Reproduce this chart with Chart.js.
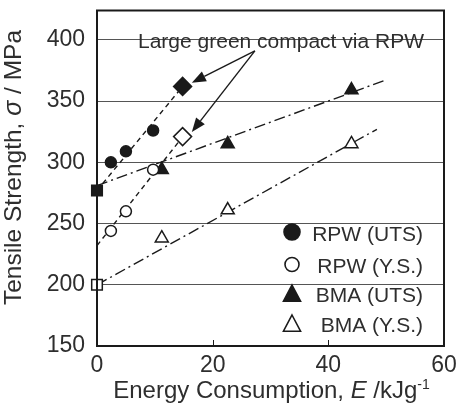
<!DOCTYPE html>
<html><head><meta charset="utf-8">
<script src="https://cdn.jsdelivr.net/npm/chart.js@4/dist/chart.umd.min.js"></script>
<style>html,body{margin:0;padding:0;background:#fff}</style>
</head><body>
<canvas id="c" width="460" height="414"></canvas>
<script>
// ---- data ----
const rpwE = [2.4, 5.0, 9.7];
const rpwUts = [300, 309, 326];
const rpwYs = [244, 260, 294];
const bmaE = [11.2, 22.6, 44.0];
const bmaUts = [294, 315, 359];
const bmaYs = [238, 261, 315];
const largeE = [14.8];
const largeUts = [362];
const largeYs = [321];
const baseE = [0];
const baseUts = [277];
const baseYs = [200];
// fitted trend lines (end points)
const rpwUtsFitE = [0, 15.5], rpwUtsFit = [277, 366];
const rpwYsFitE = [0, 15.5], rpwYsFit = [232, 325];
const bmaUtsFitE = [0, 49.8], bmaUtsFit = [281, 367];
const bmaYsFitE = [0, 48.4], bmaYsFit = [200, 327];
// arrow annotation: start and the two tips (data units)
const arrowStart = [27.3, 391];
const arrowTips = [[16.4, 365], [16.4, 324.8]];
const annotationText = 'Large green compact via RPW';
const xTicks = [0, 20, 40, 60];
const yTicks = [150, 200, 250, 300, 350, 400];
const legendLabels = ['RPW (UTS)', 'RPW (Y.S.)', 'BMA (UTS)', 'BMA (Y.S.)'];

const pts = (xs, ys) => xs.map((x, i) => ({x, y: ys[i]}));
const INK = '#1a1a1a';
const TXT = '#2e2e2e';
const FONT = '"Liberation Sans", Arial, Helvetica, sans-serif';

function marker(data, style, filled, r) {
  return {data, showLine: false, pointStyle: style, pointRadius: r, pointHoverRadius: r,
    pointBackgroundColor: filled ? INK : '#fff', pointBorderColor: INK, pointBorderWidth: 1.5};
}
function fit(data, dash) {
  return {data, showLine: true, pointRadius: 0, borderColor: INK, borderWidth: 1.4,
    borderDash: dash, fill: false, tension: 0};
}
const DASH = [5, 4];
const DASHDOT = [11, 4, 2, 4];

const framePlugin = {
  id: 'extras',
  afterDraw(chart) {
    const ctx = chart.ctx, a = chart.chartArea;
    const xs = chart.scales.x, ys = chart.scales.y;
    ctx.save();
    // inside ticks on bottom axis
    ctx.strokeStyle = INK; ctx.lineWidth = 1;
    xTicks.slice(1, -1).forEach(v => {
      const px = Math.round(xs.getPixelForValue(v)) + 0.5;
      ctx.beginPath(); ctx.moveTo(px, a.bottom); ctx.lineTo(px, a.bottom - 6); ctx.stroke();
    });
    // frame
    ctx.lineWidth = 2; ctx.strokeStyle = INK;
    ctx.strokeRect(a.left, a.top, a.right - a.left, a.bottom - a.top);

    // annotation text
    ctx.fillStyle = TXT;
    ctx.font = '21px ' + FONT;
    ctx.textBaseline = 'alphabetic'; ctx.textAlign = 'left';
    ctx.fillText(annotationText, a.left + 41, a.top + 37);
    // arrows
    const sx = xs.getPixelForValue(arrowStart[0]), sy = ys.getPixelForValue(arrowStart[1]);
    ctx.lineWidth = 1.4; ctx.strokeStyle = INK; ctx.fillStyle = INK;
    arrowTips.forEach(t => {
      const tx = xs.getPixelForValue(t[0]), ty = ys.getPixelForValue(t[1]);
      const ang = Math.atan2(ty - sy, tx - sx);
      const L = 14, W = 5.5;
      const bx = tx - L * Math.cos(ang), by = ty - L * Math.sin(ang);
      ctx.beginPath(); ctx.moveTo(sx, sy); ctx.lineTo(bx, by); ctx.stroke();
      ctx.beginPath();
      ctx.moveTo(tx, ty);
      ctx.lineTo(bx + W * Math.sin(ang), by - W * Math.cos(ang));
      ctx.lineTo(bx - W * Math.sin(ang), by + W * Math.cos(ang));
      ctx.closePath(); ctx.fill();
    });

    // legend
    const lx = a.left + 195, rx = a.left + 326;
    const rows = [221.5, 254, 284, 314];
    const base = [9.3, 8.3, 7.5, 7.3];
    const styles = [['circle', true], ['circle', false], ['triangle', true], ['triangle', false]];
    ctx.font = '21px ' + FONT; ctx.textAlign = 'right'; ctx.textBaseline = 'alphabetic';
    legendLabels.forEach((lab, i) => {
      const cy = a.top + rows[i];
      const [st, filled] = styles[i];
      ctx.beginPath();
      if (st === 'circle') {
        ctx.arc(lx, cy, filled ? 8 : 7, 0, Math.PI * 2);
      } else {
        const r = 9.5;
        ctx.moveTo(lx, cy - r);
        ctx.lineTo(lx + r * 0.9, cy + r * 0.5 + 2);
        ctx.lineTo(lx - r * 0.9, cy + r * 0.5 + 2);
        ctx.closePath();
      }
      ctx.lineWidth = 1.6;
      ctx.fillStyle = filled ? INK : '#fff';
      ctx.fill(); ctx.strokeStyle = INK; ctx.stroke();
      ctx.fillStyle = TXT;
      ctx.fillText(lab, rx, cy + base[i]);
    });

    // axis titles with mixed styles
    ctx.fillStyle = TXT; ctx.textAlign = 'left'; ctx.textBaseline = 'alphabetic';
    function runs(parts) {
      let w = 0;
      parts.forEach(p => { ctx.font = p.f; p.w = ctx.measureText(p.t).width; w += p.w; });
      return w;
    }
    const N = '24px ' + FONT, I = 'italic 24px ' + FONT, S = '14px ' + FONT;
    const NY = '24.5px ' + FONT, IY = 'italic 25px ' + FONT;
    // x title
    const xp = [{t: 'Energy Consumption, ', f: N}, {t: 'E', f: I}, {t: ' /kJg', f: N}, {t: '-1', f: S, up: 9}];
    const xw = runs(xp);
    let cx = (a.left + a.right) / 2 - xw / 2 + 1;
    xp.forEach(p => { ctx.font = p.f; ctx.fillText(p.t, cx, 398 - (p.up || 0)); cx += p.w; });
    // y title
    const yp = [{t: 'Tensile Strength, ', f: NY}, {t: '\u03C3', f: IY}, {t: ' / MPa', f: NY}];
    const yw = runs(yp);
    ctx.translate(21, 167.5); ctx.rotate(-Math.PI / 2);
    let cy2 = -yw / 2;
    yp.forEach(p => { ctx.font = p.f; ctx.fillText(p.t, cy2, 0); cy2 += p.w; });
    ctx.restore();
  }
};

new Chart(document.getElementById('c'), {
  type: 'scatter',
  data: {
    datasets: [
      marker(pts(rpwE, rpwUts), 'circle', true, 5.5),
      marker(pts(rpwE, rpwYs), 'circle', false, 5.5),
      marker(pts(bmaE, bmaUts), 'triangle', true, 7.5),
      marker(pts(bmaE, bmaYs), 'triangle', false, 7.5),
      marker(pts(largeE, largeUts), 'rectRot', true, 9),
      marker(pts(largeE, largeYs), 'rectRot', false, 9),
      marker(pts(baseE, baseUts), 'rect', true, 7.5),
      marker(pts(baseE, baseYs), 'rect', false, 7.5),
      fit(pts(rpwUtsFitE, rpwUtsFit), DASH),
      fit(pts(rpwYsFitE, rpwYsFit), DASH),
      fit(pts(bmaUtsFitE, bmaUtsFit), DASHDOT),
      fit(pts(bmaYsFitE, bmaYsFit), DASHDOT)
    ]
  },
  options: {
    responsive: false, animation: false, devicePixelRatio: 1,
    layout: {padding: {top: 6, right: 16, left: 0, bottom: 0}},
    plugins: {legend: {display: false}, tooltip: {enabled: false}},
    scales: {
      x: {
        type: 'linear', min: 0, max: 60,
        afterBuildTicks: s => { s.ticks = xTicks.map(v => ({value: v})); },
        afterFit: s => { s.height = 68; s.paddingLeft = 0; s.paddingRight = 0; },
        grid: {display: false, drawTicks: false},
        border: {display: false},
        ticks: {font: {size: 23, family: FONT}, color: TXT, padding: 6, maxRotation: 0}
      },
      y: {
        type: 'linear', min: 150, max: 424,
        afterBuildTicks: s => { s.ticks = yTicks.map(v => ({value: v})); },
        afterFit: s => { s.width = 97; s.paddingTop = 0; s.paddingBottom = 0; },
        grid: {color: '#555', lineWidth: 1, drawTicks: false},
        border: {display: false},
        ticks: {font: {size: 23, family: FONT}, color: TXT, padding: 12}
      }
    },
    clip: false
  },
  plugins: [framePlugin]
});
</script>
</body></html>
